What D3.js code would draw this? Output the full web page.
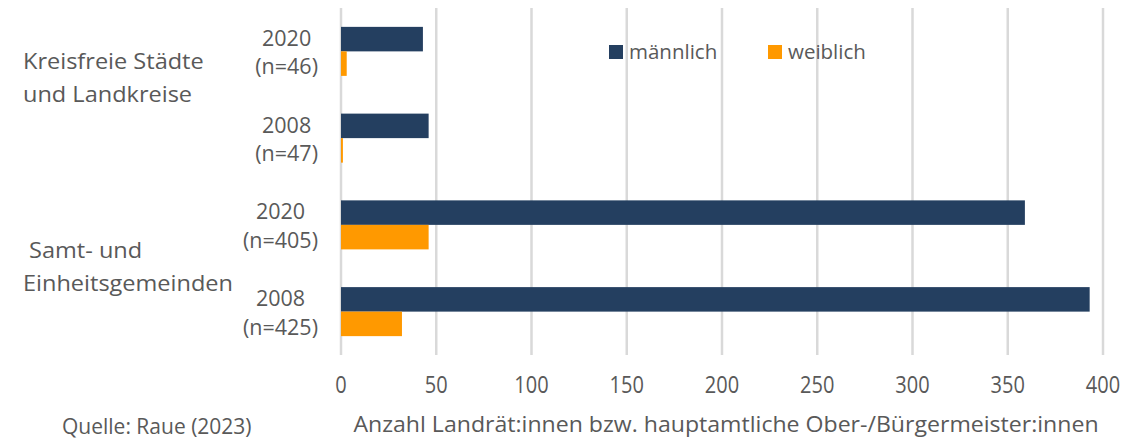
<!DOCTYPE html>
<html>
<head>
<meta charset="utf-8">
<script src="https://cdn.jsdelivr.net/npm/d3@7"></script>
<style>
  body { margin: 0; background: #fff; }
  text { font-family: "Open Sans", sans-serif; fill: #595959; }
</style>
</head>
<body>
<script>
// data
var categories = ["2020 (n=46)", "2008 (n=47)", "2020 (n=405)", "2008 (n=425)"];
var catLines = [["2020", "(n=46)"], ["2008", "(n=47)"], ["2020", "(n=405)"], ["2008", "(n=425)"]];
var groups = [["Kreisfreie Städte", "und Landkreise"], ["\u00a0Samt- und", "Einheitsgemeinden"]];
var series = ["männlich", "weiblich"];
var maennlich = [43, 46, 359, 393];
var weiblich = [3, 1, 46, 32];
var ticks = [0, 50, 100, 150, 200, 250, 300, 350, 400];
var colors = ["#243F60", "#FF9900"];

var width = 1147, height = 441;
var margin = { top: 8, left: 341, right: 44, bottom: 86 };

var svg = d3.select("body").append("svg")
  .attr("width", width)
  .attr("height", height);

var x = d3.scaleLinear()
  .domain([0, 400])
  .range([margin.left, width - margin.right]);

var y = d3.scaleBand()
  .domain(categories)
  .range([margin.top, height - margin.bottom])
  .paddingInner(0.435)
  .paddingOuter(0.2175);

var ySub = d3.scaleBand()
  .domain(series)
  .range([0, y.bandwidth()]);

// gridlines
svg.append("g")
  .selectAll("line")
  .data(ticks)
  .enter().append("line")
    .attr("x1", function(d) { return x(d); })
    .attr("x2", function(d) { return x(d); })
    .attr("y1", margin.top)
    .attr("y2", height - margin.bottom)
    .attr("stroke", "#D9D9D9")
    .attr("stroke-width", 2.5);

// tick labels
svg.append("g")
  .selectAll("text")
  .data(ticks)
  .enter().append("text")
    .attr("text-anchor", "middle")
    .attr("transform", function(d) { return "translate(" + x(d) + ",393) scale(1,1.15)"; })
    .attr("font-size", 20)
    .text(function(d) { return d; });

// bars
var values = [maennlich, weiblich];
series.forEach(function(s, si) {
  svg.append("g")
    .selectAll("rect")
    .data(values[si])
    .enter().append("rect")
      .attr("x", x(0))
      .attr("y", function(d, i) { return y(categories[i]) + ySub(s); })
      .attr("width", function(d) { return x(d) - x(0); })
      .attr("height", ySub.bandwidth())
      .attr("fill", colors[si]);
});

// category labels (two lines, centred in a block ending at x=318)
catLines.forEach(function(lines, i) {
  var cy = y(categories[i]) + y.bandwidth() / 2;
  var t = svg.append("g")
    .selectAll("text")
    .data(lines)
    .enter().append("text")
      .attr("text-anchor", "middle")
      .attr("font-size", 21.5)
      .attr("y", function(d, j) { return cy + (j === 0 ? -5.5 : 23); })
      .text(function(d) { return d; });
  var maxW = 0;
  t.each(function() { maxW = Math.max(maxW, this.getComputedTextLength()); });
  t.attr("x", 318 - maxW / 2);
});

// group labels
var groupY = [69, 258];
groups.forEach(function(lines, gi) {
  svg.append("g")
    .selectAll("text")
    .data(lines)
    .enter().append("text")
      .attr("transform", function(d, j) {
        return "translate(23," + (groupY[gi] + j * 33) + ") scale(1.07,1)";
      })
      .attr("font-size", 22)
      .text(function(d) { return d; });
});

// legend
var legendX = [609, 768];
series.forEach(function(s, i) {
  svg.append("rect")
    .attr("x", legendX[i])
    .attr("y", 45)
    .attr("width", 14)
    .attr("height", 14)
    .attr("fill", colors[i]);
  svg.append("text")
    .attr("x", legendX[i] + 20)
    .attr("y", 59)
    .attr("font-size", 20.5)
    .text(s);
});

// axis title and source
svg.append("text")
  .attr("transform", "translate(" + ((x(0) + x(400)) / 2 + 4) + ",432) scale(1.05,1)")
  .attr("text-anchor", "middle")
  .attr("font-size", 22)
  .text("Anzahl Landrät:innen bzw. hauptamtliche Ober-/Bürgermeister:innen");

svg.append("text")
  .attr("x", 62)
  .attr("y", 434)
  .attr("font-size", 21)
  .text("Quelle: Raue (2023)");
</script>
</body>
</html>
